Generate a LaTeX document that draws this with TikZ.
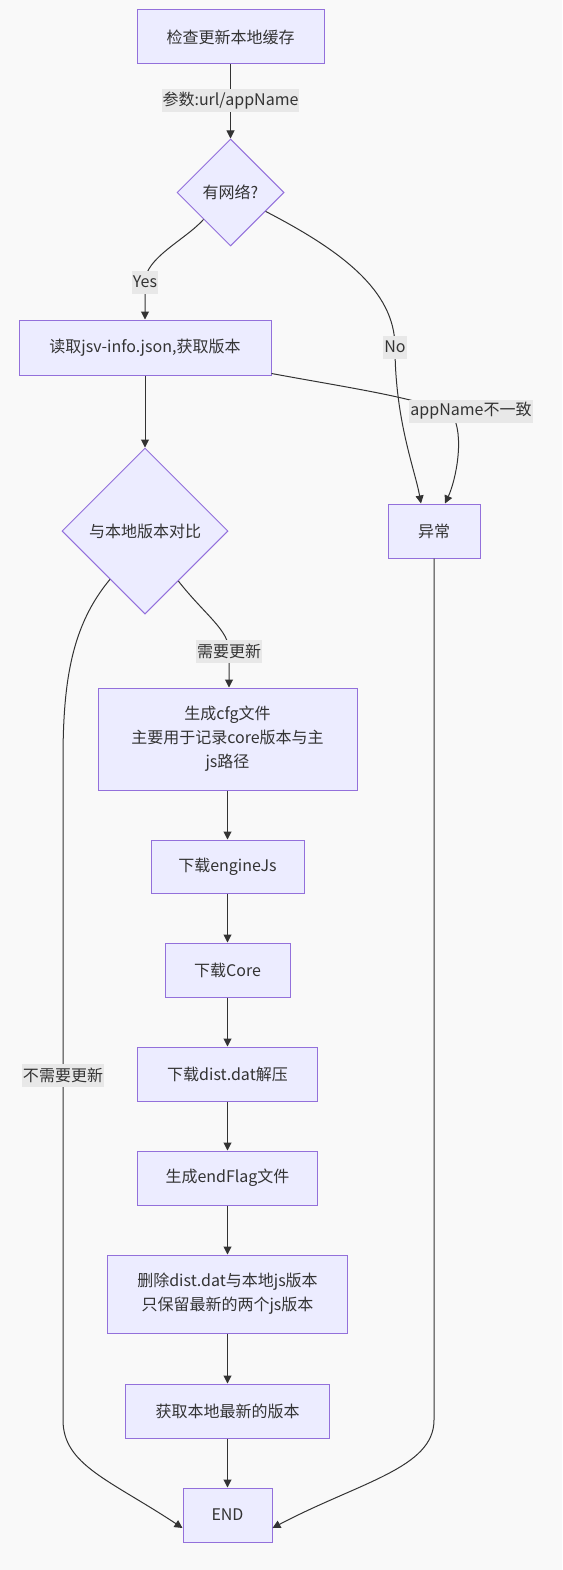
\documentclass[tikz,border=0pt]{standalone}
\usepackage{fontspec}
\setmainfont{Noto Sans CJK SC}
\usetikzlibrary{shapes.geometric,arrows.meta,calc}
\definecolor{nfill}{HTML}{ECECFF}
\definecolor{nstroke}{HTML}{9370DB}
\definecolor{bgc}{HTML}{F9F9F9}
\definecolor{lblbg}{HTML}{E8E8E8}
\definecolor{txt}{HTML}{333333}
\tikzset{
  box/.style={draw=nstroke, fill=nfill, line width=1pt, inner sep=0pt, align=center, text=txt, font=\fontsize{16pt}{24pt}\selectfont},
  dia/.style={diamond, draw=nstroke, fill=nfill, line width=1pt, inner sep=0pt, align=center, text=txt, font=\fontsize{16pt}{24pt}\selectfont},
  lbl/.style={fill=lblbg, inner xsep=1pt, inner ysep=0pt, minimum height=23pt, text=txt, font=\fontsize{16pt}{20pt}\selectfont},
  edge/.style={draw=txt, line width=1pt, -{Triangle[length=8pt,width=8pt]}},
  line/.style={draw=txt, line width=1pt}
}
\begin{document}
\begin{tikzpicture}[x=1pt,y=-1pt]
\fill[bgc] (0,0) rectangle (562,1570);
\useasboundingbox (0,0) rectangle (562,1570);

\node[box, minimum width=187pt, minimum height=54pt] (n1) at (230.5,37) {检查更新本地缓存};
\node[dia, minimum width=107pt, minimum height=107pt] (d1) at (230.5,192.5) {有网络?};
\node[box, minimum width=252pt, minimum height=55pt] (n2) at (145,347.5) {读取jsv-info.json,获取版本};
\node[dia, minimum width=166pt, minimum height=166pt] (d2) at (145,531) {与本地版本对比};
\node[box, minimum width=92pt, minimum height=54pt] (err) at (434,531) {异常};
\node[box, minimum width=259pt, minimum height=102pt] (n3) at (227.5,739) {生成cfg文件\\主要用于记录core版本与主\\js路径};
\node[box, minimum width=153pt, minimum height=53pt] (n4) at (227.5,866.5) {下载engineJs};
\node[box, minimum width=125pt, minimum height=54pt] (n5) at (227.5,970) {下载Core};
\node[box, minimum width=180pt, minimum height=54pt] (n6) at (227.5,1074) {下载dist.dat解压};
\node[box, minimum width=180pt, minimum height=54pt] (n7) at (227.5,1178) {生成endFlag文件};
\node[box, minimum width=240pt, minimum height=78pt] (n8) at (227.5,1294) {删除dist.dat与本地js版本\\只保留最新的两个js版本};
\node[box, minimum width=204pt, minimum height=54pt] (n9) at (227.5,1411) {获取本地最新的版本};
\node[box, minimum width=89pt, minimum height=54pt] (n10) at (227.5,1515) {END};

% edges
\draw[edge] (n1) -- (d1);
\node[lbl] (l1) at (230.5,101) {参数:url/appName};

\coordinate (yes) at (145,282);
\draw[edge] (d1.south west) .. controls (185,240) and (145,258) .. (yes) -- (n2.north);
\node[lbl] (l2) at (yes) {Yes};

\coordinate (no) at (395,347);
\draw[edge] ($(d1.east)!0.35!(d1.south)$) .. controls (340,250) and (395,290) .. (no) .. controls (395,420) and (415,470) .. ([xshift=-13pt]err.north);
\node[lbl] (l3) at (no) {No};

\coordinate (apn) at (452,414);
\draw[edge] ([yshift=2pt]n2.south east) .. controls (350,388) and (420,398) .. (apn) .. controls (465,435) and (456,480) .. ([xshift=11pt]err.north);
\node[lbl] (l4) at (471,411) {appName不一致};

\draw[edge] (n2.south) -- (d2.north);

\coordinate (need) at (229,651);
\draw[edge] ($(d2.east)!0.6!(d2.south)$) .. controls (205,615) and (229,630) .. (need) -- ([xshift=1.5pt]n3.north);
\node[lbl] (l5) at (need) {需要更新};

\coordinate (noneed) at (63,1075);
\draw[edge] ($(d2.west)!0.58!(d2.south)$) .. controls (72,625) and (63,680) .. (63,760) -- (noneed) -- (63,1420) .. controls (63,1465) and (110,1480) .. ([yshift=-13pt]n10.west);
\node[lbl] (l6) at (noneed) {不需要更新};

\draw[edge] (err.south) -- (434,1420) .. controls (434,1468) and (360,1482) .. ([yshift=-13pt]n10.east);

\draw[edge] (n3) -- (n4);
\draw[edge] (n4) -- (n5);
\draw[edge] (n5) -- (n6);
\draw[edge] (n6) -- (n7);
\draw[edge] (n7) -- (n8);
\draw[edge] (n8) -- (n9);
\draw[edge] (n9) -- (n10);
\end{tikzpicture}
\end{document}
